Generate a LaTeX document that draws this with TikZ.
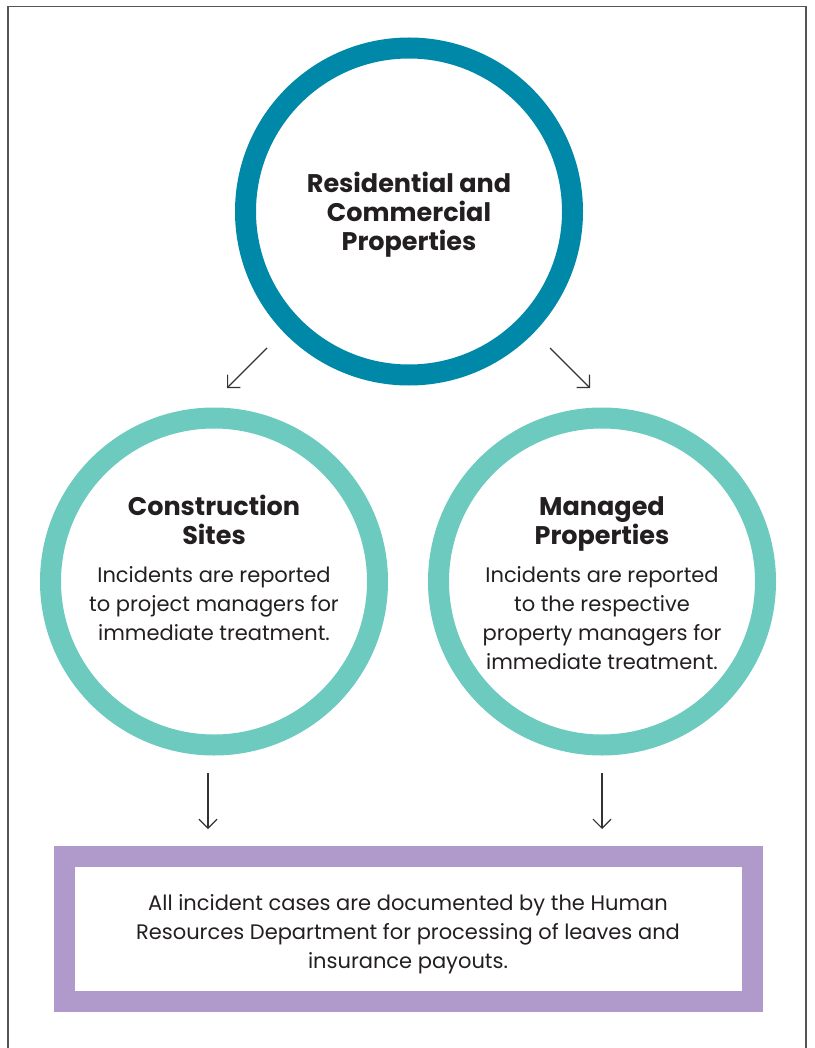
\documentclass[tikz,border=0pt]{standalone}
\usepackage{fontspec}
\setmainfont{Poppins}
\usetikzlibrary{arrows.meta}
\definecolor{ringblue}{HTML}{0088A8}
\definecolor{ringgreen}{HTML}{6CCABF}
\definecolor{boxpurple}{HTML}{B09ACB}
\definecolor{inkdark}{HTML}{231F20}
\definecolor{framegray}{HTML}{555555}
\definecolor{arrowgray}{HTML}{333333}
\tikzset{
  ring/.style={circle, draw=#1, line width=21pt, minimum size=327pt, inner sep=0pt},
  docbox/.style={rectangle, draw=boxpurple, line width=21pt, minimum width=688pt, minimum height=145pt, inner sep=0pt},
  heading/.style={text=inkdark, align=center, font=\fontsize{25.5}{29}\selectfont\bfseries},
  body/.style={text=inkdark, align=center, font=\fontsize{21}{29}\selectfont},
  flow/.style={draw=arrowgray, line width=1.2pt, -{Straight Barb[length=9pt,width=18pt]}},
  frameline/.style={draw=framegray, line width=1.4pt}
}
\begin{document}
\begin{tikzpicture}[x=1pt, y=-1pt]
  \useasboundingbox (0,0) rectangle (814,1048);
  % outer frame, open at the bottom
  \draw[frameline] (8,1048) -- (8,6.5) -- (806,6.5) -- (806,1048);

  % rings
  \node[ring=ringblue]  (top)   at (409,211.5) {};
  \node[ring=ringgreen] (left)  at (214,581.5) {};
  \node[ring=ringgreen] (right) at (602,581.5) {};

  % documentation box
  \node[docbox] (docs) at (408.5,929) {};

  % ring texts (anchored at the baseline of their last line)
  \node[heading, anchor=base] (toptxt) at (409,251) {Residential and\\Commercial\\Properties};
  \node[heading, anchor=base] (lefthead) at (214,544) {Construction\\Sites};
  \node[body, anchor=base] (leftbody) at (214,640) {Incidents are reported\\to project managers for\\immediate treatment.};
  \node[heading, anchor=base] (righthead) at (602,544) {Managed\\Properties};
  \node[body, anchor=base] (rightbody) at (602,669) {Incidents are reported\\to the respective\\property managers for\\immediate treatment.};
  \node[body, anchor=base] (docstxt) at (408,968) {All incident cases are documented by the Human\\Resources Department for processing of leaves and\\insurance payouts.};

  % arrow end points
  \coordinate (tl1) at (267,348);
  \coordinate (tl2) at (227,388);
  \coordinate (tr1) at (550,348);
  \coordinate (tr2) at (590,388);
  \coordinate (dl1) at (208,773);
  \coordinate (dl2) at (208,829);
  \coordinate (dr1) at (602,773);
  \coordinate (dr2) at (602,829);

  \draw[flow] (tl1) -- (tl2);
  \draw[flow] (tr1) -- (tr2);
  \draw[flow] (dl1) -- (dl2);
  \draw[flow] (dr1) -- (dr2);
\end{tikzpicture}
\end{document}
